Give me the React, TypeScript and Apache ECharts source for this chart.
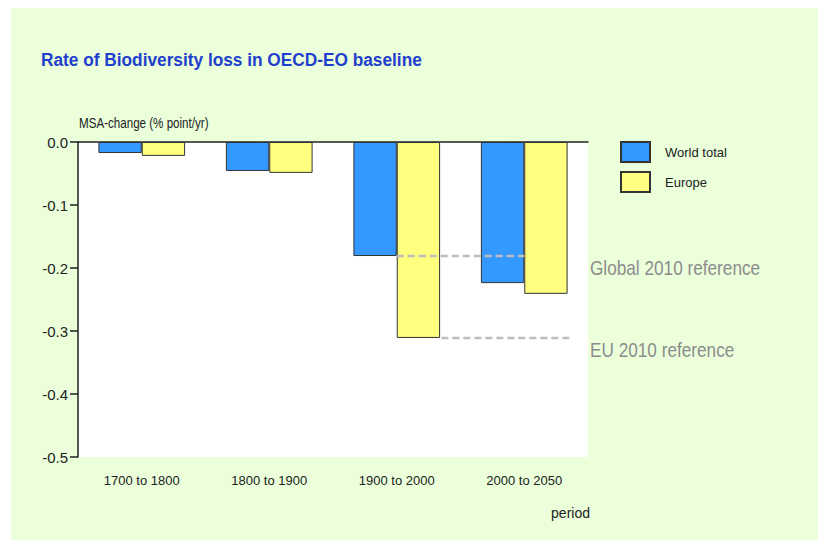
import React, { useEffect, useRef } from "react";
import * as echarts from "echarts";

const categories = ["1700 to 1800", "1800 to 1900", "1900 to 2000", "2000 to 2050"];
const worldTotal = [-0.0175, -0.046, -0.181, -0.224];
const europe = [-0.022, -0.049, -0.311, -0.241];
const yTicks = [0, -0.1, -0.2, -0.3, -0.4, -0.5];
const globalRef = -0.181;
const euRef = -0.311;
// reference line extents along the category axis (category units, 0..4)
const globalRefSpan = [2.5, 3.5];
const euRefSpan = [2.85, 3.86];

const FONT = "'Liberation Sans', Arial, sans-serif";

export default function App() {
  const ref = useRef<HTMLDivElement>(null);
  useEffect(() => {
    if (!ref.current) return;
    const chart = echarts.init(ref.current, undefined, { renderer: "svg" });
    chart.setOption({
      animation: false,
      backgroundColor: "#ffffff",
      textStyle: { fontFamily: FONT },
      graphic: [
        {
          type: "rect",
          z: -10,
          silent: true,
          shape: { x: 11, y: 8, width: 807, height: 532 },
          style: { fill: "#ebffdb" },
        },
        {
          type: "text",
          x: 41,
          y: 60,
          scaleX: 0.96,
          style: {
            text: "Rate of Biodiversity loss in OECD-EO baseline",
            fill: "#1f3fcc",
            font: `bold 18px ${FONT}`,
            verticalAlign: "middle",
          },
        },
        {
          type: "text",
          x: 79,
          y: 123,
          scaleX: 0.8,
          style: {
            text: "MSA-change (% point/yr)",
            fill: "#222",
            font: `14.5px ${FONT}`,
            verticalAlign: "middle",
          },
        },
        {
          type: "text",
          x: 590,
          y: 513,
          style: {
            text: "period",
            fill: "#222",
            font: `14px ${FONT}`,
            align: "right",
            verticalAlign: "middle",
          },
        },
        {
          type: "text",
          x: 590,
          y: 268,
          scaleX: 0.86,
          style: {
            text: "Global 2010 reference",
            fill: "#8c8c8c",
            font: `20px ${FONT}`,
            verticalAlign: "middle",
          },
        },
        {
          type: "text",
          x: 590,
          y: 350,
          scaleX: 0.86,
          style: {
            text: "EU 2010 reference",
            fill: "#8c8c8c",
            font: `20px ${FONT}`,
            verticalAlign: "middle",
          },
        },
      ],
      legend: {
        orient: "vertical",
        left: 620,
        top: 141,
        padding: 0,
        itemWidth: 29,
        itemHeight: 20,
        itemGap: 8,
        icon: "rect",
        textStyle: { fontSize: 13, color: "#222", fontFamily: FONT, padding: [0, 0, 0, 10] },
        data: ["World total", "Europe"],
      },
      grid: {
        left: 78,
        top: 142,
        width: 510,
        height: 315,
        show: true,
        backgroundColor: "#ffffff",
        borderWidth: 0,
      },
      xAxis: [
        {
          type: "category",
          data: categories,
          position: "bottom",
          axisLine: { show: false },
          axisTick: { show: false },
          axisLabel: { fontSize: 13, color: "#222", margin: 17, fontFamily: FONT },
          splitLine: { show: false },
        },
        {
          type: "value",
          min: 0,
          max: 4,
          position: "top",
          axisLine: { show: true, onZero: false, lineStyle: { color: "#222", width: 1.5 } },
          axisTick: { show: false },
          axisLabel: { show: false },
          splitLine: { show: false },
        },
      ],
      yAxis: {
        type: "value",
        min: -0.5,
        max: 0,
        interval: 0.1,
        axisLine: { show: true, lineStyle: { color: "#222", width: 1.5 } },
        axisTick: { show: true, length: 8, lineStyle: { color: "#222", width: 1.5 } },
        axisLabel: {
          fontSize: 15,
          color: "#222",
          margin: 10,
          fontFamily: FONT,
          formatter: (v: number) => (yTicks.some((t) => Math.abs(t - v) < 1e-9) ? v.toFixed(1) : ""),
        },
        splitLine: { show: false },
      },
      series: [
        {
          name: "World total",
          type: "bar",
          xAxisIndex: 0,
          data: worldTotal,
          barGap: "0%",
          barCategoryGap: "32%",
          itemStyle: { color: "#3399ff", borderColor: "#333", borderWidth: 1 },
        },
        {
          name: "Europe",
          type: "bar",
          xAxisIndex: 0,
          data: europe,
          barGap: "0%",
          barCategoryGap: "32%",
          itemStyle: { color: "#ffff80", borderColor: "#333", borderWidth: 1 },
        },
        {
          name: "Global ref",
          type: "line",
          xAxisIndex: 1,
          data: [
            [globalRefSpan[0], globalRef],
            [globalRefSpan[1], globalRef],
          ],
          symbol: "none",
          z: 5,
          lineStyle: { color: "#bdbdbd", width: 2.5, type: [7, 4] },
        },
        {
          name: "EU ref",
          type: "line",
          xAxisIndex: 1,
          data: [
            [euRefSpan[0], euRef],
            [euRefSpan[1], euRef],
          ],
          symbol: "none",
          z: 5,
          lineStyle: { color: "#bdbdbd", width: 2.5, type: [7, 4] },
        },
      ],
    });
    return () => chart.dispose();
  }, []);
  return (
    <div
      ref={ref}
      style={{ position: "absolute", left: 0, top: 0, width: 818, height: 540 }}
    />
  );
}
